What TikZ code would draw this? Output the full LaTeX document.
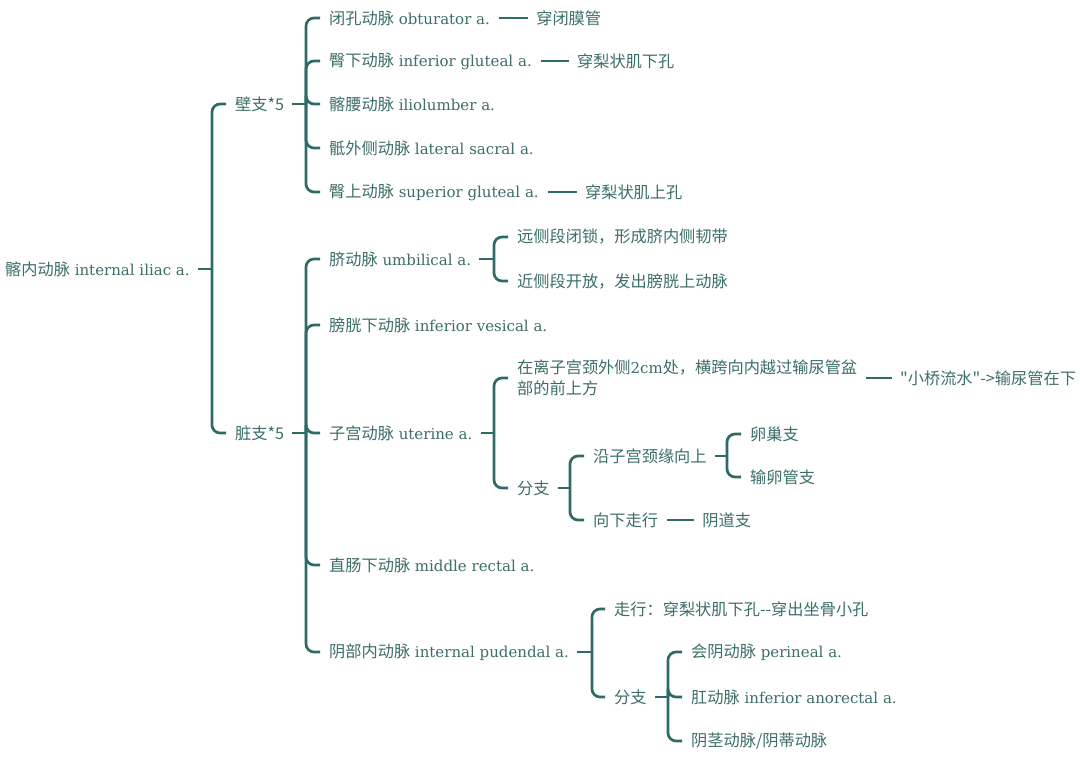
\documentclass[tikz,border=0pt]{standalone}
\usepackage{fontspec}
\setmainfont{DejaVu Serif}
\newfontfamily\cjkfont[Scale=1.08]{Noto Sans CJK SC}
\newcommand\zh[1]{{\cjkfont #1}}
\definecolor{lc}{HTML}{2E6A66}
\definecolor{tc}{HTML}{3C6E6A}
\begin{document}
\begin{tikzpicture}[x=1pt,y=-1pt,
  lbl/.style={anchor=west,inner sep=0pt,text=tc,font=\fontsize{15}{21}\selectfont},
  conn/.style={draw=lc,line width=2.7pt,rounded corners=8pt}]
\useasboundingbox[fill=white] (0,0) rectangle (1080,763);
% nodes
\node[lbl] (root) at (5,269) {\zh{髂内动脉} internal iliac a.};
\node[lbl] (bz) at (235,104) {\zh{壁支*5}};
\node[lbl] (zz) at (235,433) {\zh{脏支*5}};
\node[lbl] (a1) at (329,18) {\zh{闭孔动脉} obturator a.};
\node[lbl] (a1x) at ([xshift=46pt]a1.east) {\zh{穿闭膜管}};
\node[lbl] (a2) at (329,61) {\zh{臀下动脉} inferior gluteal a.};
\node[lbl] (a2x) at ([xshift=45pt]a2.east) {\zh{穿梨状肌下孔}};
\node[lbl] (a3) at (329,104) {\zh{髂腰动脉} iliolumber a.};
\node[lbl] (a4) at (329,148) {\zh{骶外侧动脉} lateral sacral a.};
\node[lbl] (a5) at (329,192) {\zh{臀上动脉} superior gluteal a.};
\node[lbl] (a5x) at ([xshift=46pt]a5.east) {\zh{穿梨状肌上孔}};
\node[lbl] (b1) at (329,259) {\zh{脐动脉} umbilical a.};
\node[lbl] (b1a) at (517,237) {\zh{远侧段闭锁，形成脐内侧韧带}};
\node[lbl] (b1b) at (517,281) {\zh{近侧段开放，发出膀胱上动脉}};
\node[lbl] (b2) at (329,325) {\zh{膀胱下动脉} inferior vesical a.};
\node[lbl] (b3) at (329,433) {\zh{子宫动脉} uterine a.};
\node[lbl,align=left] (b3a) at (517,378) {\zh{在离子宫颈外侧}2cm\zh{处，横跨向内越过输尿管盆}\\\zh{部的前上方}};
\node[lbl] (b3ax) at (900,378) {\zh{"小桥流水"->输尿管在下}};
\node[lbl] (b3b) at (517,488) {\zh{分支}};
\node[lbl] (b3b1) at (593,456) {\zh{沿子宫颈缘向上}};
\node[lbl] (b3b1a) at (750,434) {\zh{卵巢支}};
\node[lbl] (b3b1b) at (750,477) {\zh{输卵管支}};
\node[lbl] (b3b2) at (593,520) {\zh{向下走行}};
\node[lbl] (b3b2x) at ([xshift=44pt]b3b2.east) {\zh{阴道支}};
\node[lbl] (b4) at (329,565) {\zh{直肠下动脉} middle rectal a.};
\node[lbl] (b5) at (329,652) {\zh{阴部内动脉} internal pudendal a.};
\node[lbl] (b5a) at (614,609) {\zh{走行：穿梨状肌下孔-{}-穿出坐骨小孔}};
\node[lbl] (b5b) at (614,697) {\zh{分支}};
\node[lbl] (b5b1) at (691,652) {\zh{会阴动脉} perineal a.};
\node[lbl] (b5b2) at (691,697) {\zh{肛动脉} inferior anorectal a.};
\node[lbl] (b5b3) at (691,741) {\zh{阴茎动脉/阴蒂动脉}};
% junction coordinates
\coordinate (vroot) at (212,269);
\coordinate (vbz) at (306,104);
\coordinate (vzz) at (306,433);
\coordinate (vb1) at (494,259);
\coordinate (vb3) at (494,433);
\coordinate (vb3b) at (570,488);
\coordinate (vb3b1) at (727,456);
\coordinate (vb5) at (592,652);
\coordinate (vb5b) at (668,697);
% stubs
\foreach \p in {root,bz,zz,b1,b3,b3b,b3b1,b5,b5b}
  \draw[conn] ([xshift=8pt]\p.east) -- (v\p);
% brackets
\foreach \c in {bz,zz} \draw[conn] (vroot) |- ([xshift=-9pt]\c.west);
\foreach \c in {a1,a2,a3,a4,a5} \draw[conn] (vbz) |- ([xshift=-9pt]\c.west);
\foreach \c in {b1,b2,b3,b4,b5} \draw[conn] (vzz) |- ([xshift=-9pt]\c.west);
\foreach \c in {b1a,b1b} \draw[conn] (vb1) |- ([xshift=-9pt]\c.west);
\foreach \c in {b3a,b3b} \draw[conn] (vb3) |- ([xshift=-9pt]\c.west);
\foreach \c in {b3b1,b3b2} \draw[conn] (vb3b) |- ([xshift=-9pt]\c.west);
\foreach \c in {b3b1a,b3b1b} \draw[conn] (vb3b1) |- ([xshift=-9pt]\c.west);
\foreach \c in {b5a,b5b} \draw[conn] (vb5) |- ([xshift=-9pt]\c.west);
\foreach \c in {b5b1,b5b2,b5b3} \draw[conn] (vb5b) |- ([xshift=-9pt]\c.west);
% simple links
\draw[conn] ([xshift=9pt]a1.east) -- ([xshift=-8pt]a1x.west);
\draw[conn] ([xshift=9pt]a2.east) -- ([xshift=-8pt]a2x.west);
\draw[conn] ([xshift=9pt]a5.east) -- ([xshift=-8pt]a5x.west);
\draw[conn] ([xshift=9pt]b3a.east) -- ([xshift=-8pt]b3ax.west);
\draw[conn] ([xshift=9pt]b3b2.east) -- ([xshift=-8pt]b3b2x.west);
\end{tikzpicture}
\end{document}
